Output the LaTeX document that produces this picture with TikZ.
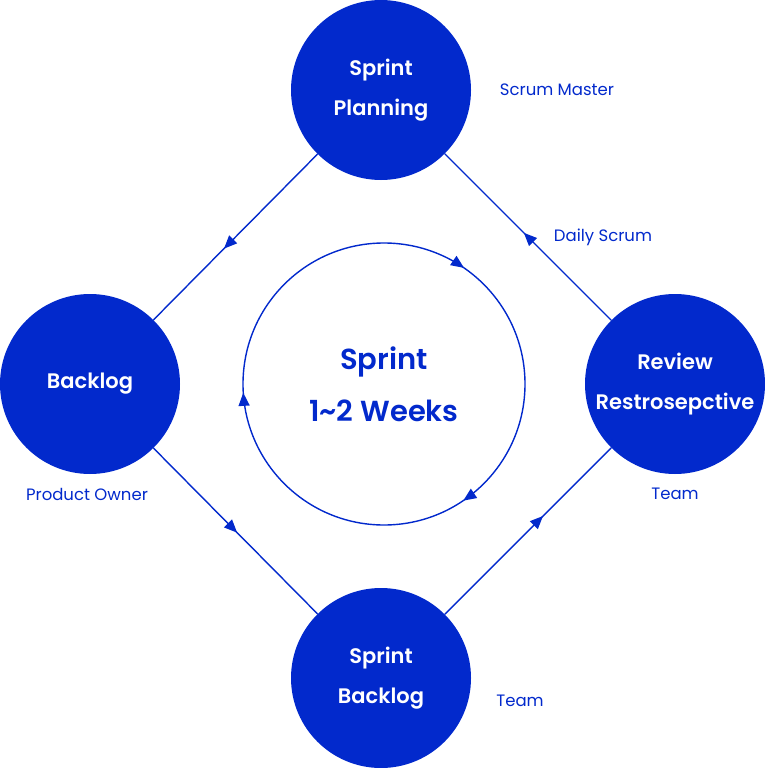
\documentclass[tikz,border=0pt]{standalone}
\usepackage{fontspec}
\setmainfont{Poppins}[BoldFont={Poppins SemiBold}, Ligatures=NoCommon]
\usetikzlibrary{arrows.meta, decorations.markings}
\definecolor{scrumblue}{RGB}{2,41,204}

\begin{document}
\begin{tikzpicture}[x=1pt, y=-1pt, >={Triangle[length=13pt,width=11pt]},
    stage/.style={circle, fill=scrumblue, minimum size=180pt, inner sep=0pt,
        text=white, align=center, font=\fontsize{21}{40}\selectfont\bfseries},
    role/.style={text=scrumblue, font=\fontsize{16.5}{19}\selectfont},
    flow/.style={draw=scrumblue, line width=1.4pt, postaction={decorate},
        decoration={markings, mark=at position #1 with {\arrow[scrumblue]{>}}}},
    loop/.style={draw=scrumblue, line width=1.4pt, postaction={decorate},
        decoration={markings,
            mark=at position 0.155 with {\arrow[scrumblue]{>}},
            mark=at position 0.49 with {\arrow[scrumblue]{>}},
            mark=at position 0.846 with {\arrow[scrumblue]{>}}}}]
    \useasboundingbox (0,0) rectangle (765,768);

    % Stages
    \node[stage] (planning) at (381,90) {Sprint\\Planning};
    \node[stage] (backlog) at (90,384) {Backlog};
    \node[stage] (review) at (675,384) {Review\\Restrosepctive};
    \node[stage] (sprintbacklog) at (381,678) {Sprint\\Backlog};

    % Cycle
    \coordinate (hub) at (384,384);
    \path[loop] (hub) ++(141,0) arc[start angle=0, end angle=360, radius=141];
    \node[text=scrumblue, align=center, font=\fontsize{29}{52}\selectfont\bfseries]
        (sprint) at (hub) {Sprint\\1\textasciitilde2 Weeks};

    % Connectors
    \path[flow=0.57] (planning) -- (backlog);
    \path[flow=0.51] (backlog) -- (sprintbacklog);
    \path[flow=0.59] (sprintbacklog) -- (review);
    \path[flow=0.525] (review) -- (planning);

    % Roles
    \node[role] (master) at (557,90) {Scrum Master};
    \node[role] (daily) at (603,237) {Daily Scrum};
    \node[role] (owner) at (87,494) {Product Owner};
    \node[role] (team) at (675,494) {Team};
    \node[role] (devteam) at (520,701) {Team};
\end{tikzpicture}
\end{document}
